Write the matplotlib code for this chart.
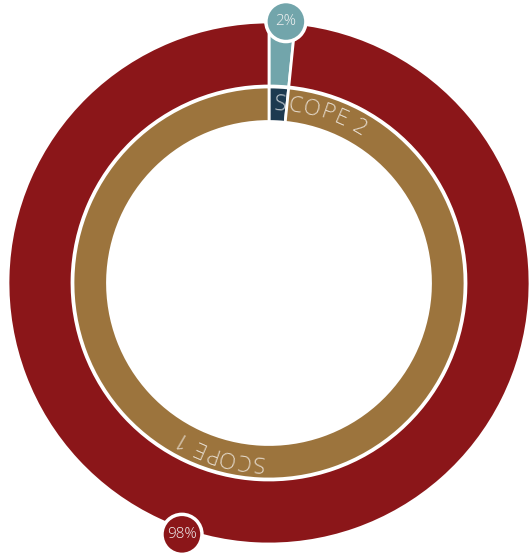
#!/usr/bin/env python3

import matplotlib
matplotlib.use("Agg")
import matplotlib.pyplot as plt
import numpy as np
from matplotlib.patches import Circle
from matplotlib.textpath import TextToPath
from matplotlib.font_manager import FontProperties

# share of emissions per scope (%), drawn clockwise from 12 o'clock
scopes = ["SCOPE 2", "SCOPE 1"]
share = [1.6, 98.4]
outer_colors = ["#72a5ab", "#8b1619"]
inner_colors = ["#1d3a50", "#9c743d"]

W, H = 529, 554
cx, cy = 269, H - 283          # ring centre in pixel units
FONT = "Open Sans"


def arc_text(ax, label, start_deg, r, size, gap):
    # lay each character along a clockwise arc, tops pointing outward
    prop = FontProperties(family=FONT, weight="light", size=size)
    ttp = TextToPath()
    px = 100 / 72
    widths = []
    for c in label:
        if c == " ":
            widths.append(0.24 * size * px)
        else:
            w, _, _ = ttp.get_text_width_height_descent(c, prop, ismath=False)
            widths.append(w * px)
    s = 0.0
    th0 = np.radians(start_deg)
    for c, w in zip(label, widths):
        th = th0 + (s + w / 2) / r
        if c != " ":
            ax.text(cx + r * np.sin(th), cy + r * np.cos(th), c,
                    rotation=-np.degrees(th), rotation_mode="anchor",
                    ha="center", va="baseline", fontproperties=prop,
                    color="white", alpha=0.75)
        s += w + gap


def bubble(ax, text, angle_deg, r, color):
    th = np.radians(angle_deg)
    x, y = cx + r * np.sin(th), cy + r * np.cos(th)
    ax.add_patch(Circle((x, y), 20, facecolor=color, edgecolor="white",
                        linewidth=2.5, zorder=5))
    ax.text(x, y, text, ha="center", va="center", fontsize=11,
            family=FONT, fontweight="light", color="#f2f2f2", zorder=6)


def draw(filename):
    fig = plt.figure(figsize=(W / 100, H / 100), dpi=100)
    ax = fig.add_axes([0, 0, 1, 1])

    ax.pie(share, radius=261, center=(cx, cy), startangle=90,
           counterclock=False, colors=outer_colors,
           wedgeprops=dict(width=64, edgecolor="white", linewidth=2))
    ax.pie(share, radius=196, center=(cx, cy), startangle=90,
           counterclock=False, colors=inner_colors,
           wedgeprops=dict(width=34.5, edgecolor="white", linewidth=2))

    # curved labels start at the middle of each slice
    cum = np.cumsum([0] + share)
    for i, name in enumerate(scopes):
        mid = (cum[i] + cum[i + 1]) / 2 * 3.6
        arc_text(ax, name, mid - 1.2, 173, 16, 1.0)

    bubble(ax, f"{round(share[0])}%", 3.7, 262, outer_colors[0])
    bubble(ax, f"{round(share[1])}%", 199.1, 266, outer_colors[1])

    ax.set_xlim(0, W)
    ax.set_ylim(0, H)
    ax.set_aspect("auto")
    ax.axis("off")
    fig.savefig(filename, dpi=100, facecolor="white")


if __name__ == "__main__":
    draw("out.png")
